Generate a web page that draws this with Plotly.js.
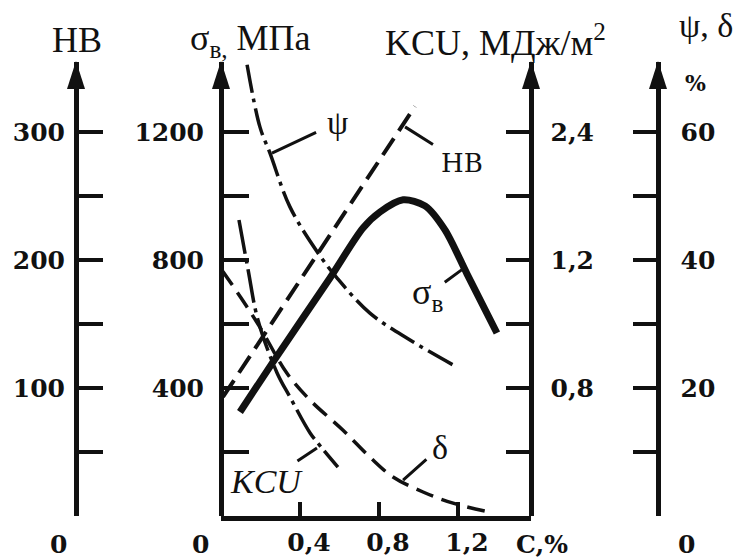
<!DOCTYPE html>
<html><head><meta charset="utf-8">
<script src="https://cdn.plot.ly/plotly-3.0.1.min.js"></script>
<style>html,body{margin:0;padding:0;background:#fff}#chart{width:740px;height:558px}</style>
</head><body><div id="chart"></div>
<script>
// ---- data (C, % on x) ----
const carbonSigma = [0.096,0.263,0.552,0.719,0.805,0.922,1.033,1.134,1.246,1.397];
const sigmaMPa    = [325,481,744,900,950,988,969,894,756,572];
const carbonHB    = [0.01,0.689,0.982];
const hardnessHB  = [93,251,320];
const carbonPsi   = [0.132,0.197,0.248,0.349,0.491,0.587,0.754,0.957,1.175];
const psiPct      = [70.5,60.8,56.7,48.3,41.1,37.2,31.7,27.5,23.6];
const carbonDelta = [0.005,0.101,0.197,0.334,0.451,0.618,0.754,0.871,1.023,1.175,1.377];
const deltaPct    = [38.4,34.1,29.5,22.3,18.1,13.4,9.2,6.1,3.75,2.0,0.5];
const carbonKCU   = [0.091,0.137,0.187,0.284,0.349,0.451,0.511,0.592];
const kcuMJ       = [1.85,1.54,1.225,0.894,0.744,0.519,0.425,0.306];

const xTickVals = [0.4,0.8,1.2];
const xTickText = ['0,4','0,8','1,2'];
const hbTickVals = [100,200,300];
const hbTickText = ['100','200','300'];
const hbMinor = [0,50,150,250];
const sigmaTickVals = [400,800,1200];
const sigmaTickText = ['400','800','1200'];
const sigmaMinor = [200,600,1000];
const kcuTickVals = [0.8,1.6,2.4];
const kcuTickText = ['0,8','1,2','2,4'];
const kcuMinor = [0.4,1.2,2.0];
const psiTickVals = [20,40,60];
const psiTickText = ['20','40','60'];
const psiMinor = [0,10,30,50];

// ---- geometry ----
const W=740, H=558;
const X0=221, X1=531, YB=516, YT=62;
const pxPerC = 197.5, pxPerHB = 1.28;
const hbMax = (YB-YT)/pxPerHB;
const px = x => x/W, py = y => 1 - y/H;
const ink = '#111';
const tickFont = {family:'DejaVu Serif', size:25, color:ink, weight:'bold'};
const titleFont = {family:'Liberation Serif', size:36, color:ink};

function yax(pos, side, range, tv, tt, minorVals, len, extra){
  return Object.assign({
    anchor:'free', position:pos, side:side, range:range,
    domain:[py(YB), py(YT)],
    showline:true, linewidth:4.5, linecolor:ink,
    tickmode:'array', ticks:'inside', ticklen:len, tickwidth:4, tickcolor:ink,
    tickvals:tv, ticktext:tt, tickfont:tickFont,
    minor:{tickmode:'array', tickvals:minorVals, ticks:'inside', ticklen:len, tickwidth:4, tickcolor:ink, showgrid:false},
    showgrid:false, zeroline:false, fixedrange:true
  }, extra||{});
}

const traces = [
  {x:carbonHB, y:hardnessHB, xaxis:'x', yaxis:'y', mode:'lines',
   line:{color:ink, width:4, dash:'20px,9px'}},
  {x:carbonSigma, y:sigmaMPa, xaxis:'x', yaxis:'y2', mode:'lines',
   line:{color:ink, width:7, shape:'spline', smoothing:0.8}},
  {x:carbonKCU, y:kcuMJ, xaxis:'x', yaxis:'y3', mode:'lines',
   line:{color:ink, width:3.5, shape:'spline', smoothing:1, dash:'34px,6px,4px,6px'}},
  {x:carbonPsi, y:psiPct, xaxis:'x', yaxis:'y4', mode:'lines',
   line:{color:ink, width:3.5, shape:'spline', smoothing:1, dash:'28px,6px,4px,6px'}},
  {x:carbonDelta, y:deltaPct, xaxis:'x', yaxis:'y4', mode:'lines',
   line:{color:ink, width:3.5, shape:'spline', smoothing:1, dash:'18px,9px'}}
];

const serif = s => ({family:'Liberation Serif', size:s, color:ink});
const dserif = s => ({family:'DejaVu Serif', size:s, color:ink});

// curve label with leader line: tip on the curve (data coords), text offset in px
function tag(text, font, x, y, yref, ax, ay, gap){
  return {x:x, y:y, xref:'x', yref:yref, text:text, font:font,
    showarrow:true, arrowhead:0, arrowwidth:3, arrowcolor:ink,
    ax:ax, ay:ay, startstandoff:gap, borderpad:0};
}
function label(x,y,text,font){
  return {x:px(x), y:py(y), xref:'paper', yref:'paper', text:text, showarrow:false,
    xanchor:'center', yanchor:'middle', font:font};
}

const annotations = [
  tag('ψ', serif(34), 0.258, 56.7, 'y4', 66, -31, 12),
  tag('HB', dserif(26), 0.932, 304, 'y', 57, 36, 9),
  tag('σ<sub>в</sub>', serif(36), 1.220, 770, 'y2', -34, 25, 1),
  tag('δ', serif(34), 0.922, 5.6, 'y4', 37, -33, 7),
  tag('<i>KCU</i>', serif(34), 0.486, 0.425, 'y3', -50, 33, 2),
  label(77,40,'HB', titleFont),
  label(250,40,'σ<sub>в,</sub> МПа', titleFont),
  label(495,40,'KCU, МДж/м<sup>2</sup>', titleFont),
  label(706,26,'ψ, δ', serif(34)),
  label(695,83,'<b>%</b>', dserif(22)),
  label(58,544,'0', tickFont),
  label(200,544,'0', tickFont),
  label(686,544,'0', tickFont),
  label(542,544,'C,%', tickFont)
];

const shapes = [76,221,531,658].map(x => ({
  type:'path', xref:'paper', yref:'paper',
  path:`M ${px(x-9)} ${py(89)} L ${px(x)} ${py(61)} L ${px(x+9)} ${py(89)} Z`,
  fillcolor:ink, line:{width:0}
}));

const layout = {
  width:W, height:H, margin:{l:0,r:0,t:0,b:0},
  paper_bgcolor:'#fff', plot_bgcolor:'rgba(0,0,0,0)', showlegend:false,
  xaxis:{domain:[px(X0),px(X1)], range:[0,(X1-X0)/pxPerC], anchor:'y',
    showline:true, linewidth:5, linecolor:ink, tickmode:'array', ticks:'inside', ticklen:14, tickwidth:3.5, tickcolor:ink,
    tickvals:xTickVals, ticktext:xTickText, tickfont:tickFont, ticklabelshift:9,
    showgrid:false, zeroline:false, fixedrange:true},
  yaxis: yax(px(76), 'left', [0,hbMax], hbTickVals, hbTickText, hbMinor, 24, {ticklabelstandoff:4}),
  yaxis2: yax(px(X0), 'left', [0,hbMax*4], sigmaTickVals, sigmaTickText, sigmaMinor, 25, {overlaying:'y', ticklabelstandoff:10}),
  yaxis3: yax(px(X1), 'right', [0,hbMax*0.008], kcuTickVals, kcuTickText, kcuMinor, 23, {overlaying:'y', ticklabelstandoff:12}),
  yaxis4: yax(px(658), 'right', [0,hbMax*0.2], psiTickVals, psiTickText, psiMinor, 23, {overlaying:'y', ticklabelstandoff:15}),
  annotations:annotations, shapes:shapes
};
Plotly.newPlot('chart', traces, layout, {displayModeBar:false, staticPlot:true});
</script></body></html>
